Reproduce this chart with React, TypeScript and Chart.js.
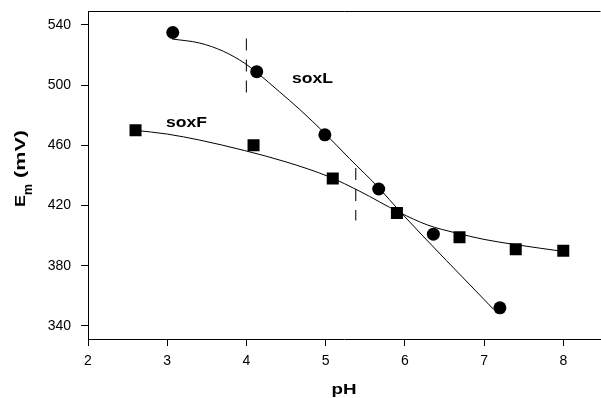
import React, { useEffect, useRef } from "react";
import { Chart, registerables } from "chart.js";

Chart.register(...registerables);

// Measured data (pH vs Em, mV)
const soxLpH = [3.07, 4.13, 4.99, 5.67, 6.36, 7.2];
const soxLEm = [535, 509, 467, 431, 401, 352];
const soxFpH = [2.6, 4.09, 5.09, 5.9, 6.69, 7.4, 8.0];
const soxFEm = [470, 460, 438, 415, 399, 391, 390];

// Fitted curves
const fitLpH = [3.06, 3.41, 3.71, 3.98, 4.13, 4.42, 4.67, 4.99, 5.3, 5.68, 5.93, 7.12];
const fitLEm = [530.7, 528, 522.5, 514.5, 508.5, 495.5, 484, 468, 451.3, 431.3, 416.5, 351];
const fitFpH = [2.6, 3.0, 3.41, 3.98, 4.5, 5.05, 5.43, 5.93, 6.29, 6.63, 7.0, 7.4, 8.0];
const fitFEm = [470, 467.5, 463.5, 456.5, 449, 439, 429.5, 415.5, 407, 402, 397.5, 394, 389.5];

// Midpoint markers (dashed verticals)
const midLpH = [4.0, 4.0];
const midLEm = [531, 495];
const midFpH = [5.38, 5.38];
const midFEm = [445, 410];

const xTicks = [2, 3, 4, 5, 6, 7, 8];
const yTicks = [340, 380, 420, 460, 500, 540];

const pts = (xs: number[], ys: number[]) => xs.map((x, i) => ({ x, y: ys[i] }));

const FONT = "'Liberation Sans', Arial, Helvetica, sans-serif";

function drawStretched(
  ctx: CanvasRenderingContext2D,
  text: string,
  x: number,
  y: number,
  size: number,
  width: number,
  align: "left" | "center" = "left"
) {
  ctx.save();
  ctx.font = `bold ${size}px ${FONT}`;
  ctx.textBaseline = "alphabetic";
  ctx.textAlign = "left";
  const w = ctx.measureText(text).width;
  const sx = width / w;
  const startX = align === "center" ? x - width / 2 : x;
  ctx.translate(startX, y);
  ctx.scale(sx, 1);
  ctx.fillText(text, 0, 0);
  ctx.restore();
}

const textPlugin = {
  id: "texts",
  afterDraw(chart: any) {
    const ctx: CanvasRenderingContext2D = chart.ctx;
    const a = chart.chartArea;
    ctx.save();
    // top frame line
    ctx.strokeStyle = "#000";
    ctx.lineWidth = 1;
    ctx.beginPath();
    ctx.moveTo(a.left, Math.round(a.top) + 0.5);
    ctx.lineTo(a.right, Math.round(a.top) + 0.5);
    ctx.stroke();

    ctx.fillStyle = "#000";
    // series labels
    drawStretched(ctx, "soxL", 292, 83, 15, 41);
    drawStretched(ctx, "soxF", 166, 127, 15, 41);
    // x title
    drawStretched(ctx, "pH", 344, 394, 15, 25, "center");

    // y title (rotated)
    ctx.save();
    ctx.translate(0, 207);
    ctx.rotate(-Math.PI / 2);
    drawStretched(ctx, "E", 0, 25, 14, 12);
    drawStretched(ctx, "m", 12, 32, 12, 11);
    drawStretched(ctx, "(mV)", 29, 25, 14, 48);
    ctx.restore();
    ctx.restore();
  },
};

export default function App() {
  const ref = useRef<HTMLCanvasElement>(null);
  useEffect(() => {
    if (!ref.current) return;
    const lineBase = {
      type: "line" as const,
      pointRadius: 0,
      borderColor: "#000",
      borderWidth: 1,
      fill: false,
    };
    const chart = new Chart(ref.current, {
      type: "line",
      data: {
        datasets: [
          { ...lineBase, data: pts(fitLpH, fitLEm), cubicInterpolationMode: "monotone" },
          { ...lineBase, data: pts(fitFpH, fitFEm), cubicInterpolationMode: "monotone" },
          { ...lineBase, data: pts(midLpH, midLEm), borderDash: [12, 9], borderColor: "#222", borderWidth: 1.2 },
          { ...lineBase, data: pts(midFpH, midFEm), borderDash: [12, 9], borderColor: "#222", borderWidth: 1.2 },
          {
            data: pts(soxLpH, soxLEm),
            showLine: false,
            pointStyle: "circle",
            pointRadius: 6.5,
            backgroundColor: "#000",
            borderColor: "#000",
            borderWidth: 0,
          },
          {
            data: pts(soxFpH, soxFEm),
            showLine: false,
            pointStyle: "rect",
            pointRadius: 8.5,
            backgroundColor: "#000",
            borderColor: "#000",
            borderWidth: 0,
          },
        ] as any,
      },
      options: {
        animation: false,
        responsive: false,
        devicePixelRatio: 1,
        layout: { padding: { top: 11, right: 0, left: 0, bottom: 0 } },
        plugins: { legend: { display: false }, tooltip: { enabled: false } },
        scales: {
          x: {
            type: "linear",
            min: 2,
            max: 8.47,
            afterBuildTicks: (s: any) => {
              s.ticks = xTicks.map((v) => ({ value: v }));
            },
            afterFit: (s: any) => {
              s.height = 59;
              s.paddingLeft = 0;
              s.paddingRight = 0;
              s.paddingTop = 0;
              s.paddingBottom = 0;
            },
            grid: { drawOnChartArea: false, drawTicks: true, tickLength: 7, color: "#000" },
            border: { display: true, color: "#000", width: 1 },
            ticks: {
              color: "#000",
              font: { family: FONT, size: 14 },
              padding: 7,
              maxRotation: 0,
            },
          },
          y: {
            type: "linear",
            min: 331.3,
            max: 549.3,
            afterBuildTicks: (s: any) => {
              s.ticks = yTicks.map((v) => ({ value: v }));
            },
            afterFit: (s: any) => {
              s.width = 88;
              s.paddingLeft = 0;
              s.paddingRight = 0;
              s.paddingTop = 0;
              s.paddingBottom = 0;
            },
            grid: { drawOnChartArea: false, drawTicks: true, tickLength: 7, color: "#000" },
            border: { display: true, color: "#000", width: 1 },
            ticks: {
              color: "#000",
              font: { family: FONT, size: 14 },
              padding: 10,
            },
          },
        },
      } as any,
      plugins: [textPlugin],
    });
    return () => chart.destroy();
  }, []);
  return (
    <div
      style={{
        position: "fixed",
        left: 0,
        top: 0,
        width: 601,
        height: 398,
        overflow: "hidden",
        background: "#fff",
      }}
    >
      <canvas ref={ref} width={609} height={398} style={{ display: "block" }} />
    </div>
  );
}
